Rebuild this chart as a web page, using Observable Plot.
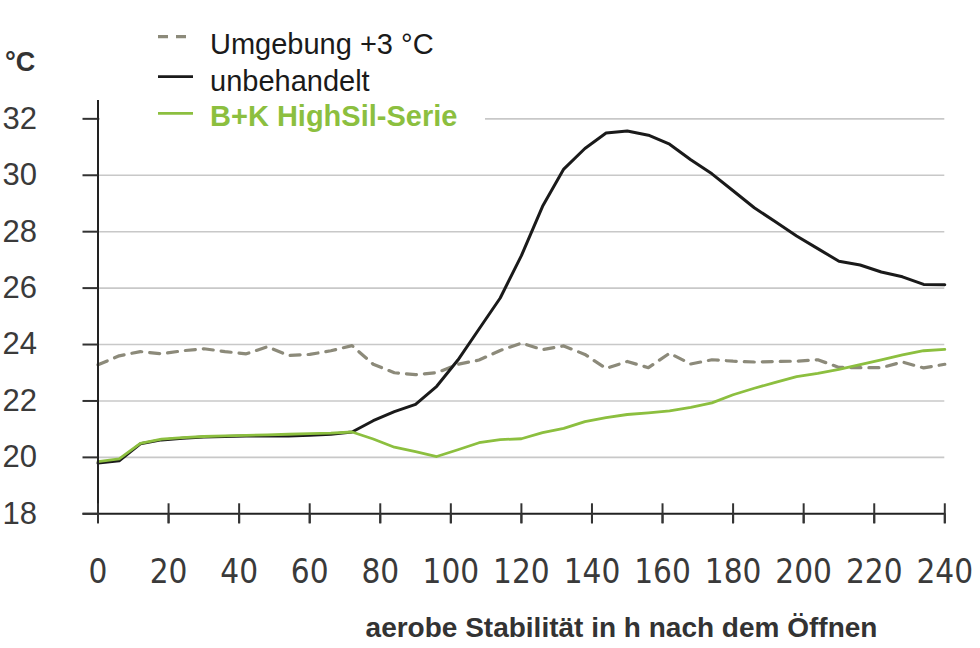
<!DOCTYPE html>
<html><head><meta charset="utf-8">
<script src="https://cdn.jsdelivr.net/npm/d3@7"></script>
<script src="https://cdn.jsdelivr.net/npm/@observablehq/plot@0.6"></script>
<style>
body{margin:0;background:#fff}
#chart{position:relative;width:980px;height:648px}
g[aria-label="y-axis tick label"] text{font-family:"Liberation Sans",Arial,sans-serif}
g[aria-label="x-axis tick label"] text{font-family:"Liberation Sans Narrow","DejaVu Sans Condensed",sans-serif;font-stretch:condensed}
</style>
</head><body><div id="chart"></div>
<script>
const seriesNames = ["Umgebung +3 °C", "unbehandelt", "B+K HighSil-Serie"];
const seriesColors = ["#8c8a7a", "#1a1a1a", "#8cbf3f"];
const hours = [0,6,12,18,24,30,36,42,48,54,60,66,72,78,84,90,96,102,108,114,120,126,132,138,144,150,156,162,168,174,180,186,192,198,204,210,216,222,228,234,240];
const umgebung = [23.28,23.6,23.75,23.67,23.78,23.85,23.75,23.67,23.92,23.61,23.65,23.78,23.96,23.3,23.0,22.93,23.0,23.3,23.45,23.79,24.05,23.82,23.95,23.65,23.15,23.4,23.18,23.69,23.31,23.46,23.41,23.38,23.4,23.41,23.46,23.19,23.18,23.18,23.38,23.17,23.3];
const unbehandelt = [19.8,19.88,20.48,20.62,20.68,20.72,20.74,20.76,20.76,20.76,20.78,20.82,20.9,21.3,21.62,21.88,22.52,23.45,24.55,25.65,27.15,28.9,30.22,30.95,31.5,31.57,31.42,31.1,30.55,30.05,29.45,28.85,28.35,27.85,27.4,26.95,26.82,26.57,26.4,26.13,26.12];
const highsil = [19.85,19.95,20.5,20.65,20.7,20.74,20.76,20.78,20.8,20.82,20.84,20.86,20.9,20.65,20.36,20.2,20.03,20.27,20.52,20.63,20.66,20.88,21.03,21.27,21.41,21.52,21.58,21.65,21.77,21.93,22.22,22.45,22.66,22.86,22.98,23.12,23.29,23.46,23.63,23.78,23.83];
const xTicks = [0,20,40,60,80,100,120,140,160,180,200,220,240];
const yTicks = [18,20,22,24,26,28,30,32];
const gridTicks = [20,22,24,26,28,30,32];
const xTitle = "aerobe Stabilität in h nach dem Öffnen";
const yUnit = "°C";

const seriesValues = [umgebung, unbehandelt, highsil];
const rows = [];
seriesValues.forEach((vals, s) => hours.forEach((h, i) => rows.push({h, v: vals[i], s: seriesNames[s]})));
const bySeries = name => rows.filter(r => r.s === name);

const plot = Plot.plot({
  width: 980, height: 648,
  marginLeft: 97.5, marginRight: 35.7, marginTop: 100, marginBottom: 134.7,
  x: {domain: [0, 240], label: null},
  y: {domain: [18, 32.65], label: null},
  style: {background: "white", overflow: "visible", color: "#333"},
  marks: [
    Plot.ruleY(gridTicks, {stroke: "#c8c8c8", strokeWidth: 1.6}),
    Plot.lineY(bySeries(seriesNames[0]), {x: "h", y: "v", stroke: seriesColors[0], strokeWidth: 3.2, strokeDasharray: "10,8"}),
    Plot.lineY(bySeries(seriesNames[1]), {x: "h", y: "v", stroke: seriesColors[1], strokeWidth: 3}),
    Plot.lineY(bySeries(seriesNames[2]), {x: "h", y: "v", stroke: seriesColors[2], strokeWidth: 2.8}),
    Plot.ruleX([0], {stroke: "#222", strokeWidth: 2}),
    Plot.ruleY([18], {stroke: "#222", strokeWidth: 2, insetLeft: -15}),
    Plot.axisY({ticks: yTicks, tickSize: 15, tickPadding: 46, fontSize: 31, stroke: "#333", strokeWidth: 2, fill: "#3a3a3a", label: null}),
    Plot.axisX({ticks: xTicks, tickSize: 10, tickPadding: 36, fontSize: 33, stroke: "#333", strokeWidth: 2, fill: "#3a3a3a", label: null}),
    Plot.ruleX(xTicks, {x: d => d, y1: () => 18, y2: () => 18, insetTop: -10, insetBottom: -10, stroke: "#333", strokeWidth: 2})
  ]
});

const svg = d3.select(plot);
svg.append("text").attr("x", 5).attr("y", 71).attr("text-anchor", "start").attr("font-family", "Liberation Sans, Arial, sans-serif")
  .attr("font-weight", "bold").attr("font-size", 27).attr("fill", "#333").text(yUnit);
svg.append("text").attr("x", 621.5).attr("y", 637).attr("text-anchor", "middle")
  .attr("font-family", "Liberation Sans, Arial, sans-serif").attr("font-weight", "bold").attr("font-size", 28)
  .attr("fill", "#333").text(xTitle);

const lg = svg.append("g");
lg.append("rect").attr("x", 100).attr("y", 18).attr("width", 385).attr("height", 112).attr("fill", "white");
const sampleY = [36.7, 76.7, 113.3];
const textY = [54.3, 90.7, 126];
const dashes = ["10,8", null, null];
seriesNames.forEach((name, i) => {
  lg.append("line").attr("x1", 158).attr("x2", 193).attr("y1", sampleY[i]).attr("y2", sampleY[i])
    .attr("stroke", seriesColors[i]).attr("stroke-width", i === 0 ? 3.2 : 2.8)
    .attr("stroke-dasharray", dashes[i]);
  lg.append("text").attr("x", 210).attr("y", textY[i]).attr("text-anchor", "start")
    .attr("font-family", "Liberation Sans, Arial, sans-serif")
    .attr("font-size", 29).attr("font-weight", i === 2 ? "bold" : "normal")
    .attr("fill", i === 2 ? seriesColors[2] : "#1a1a1a").text(name);
});

document.getElementById("chart").appendChild(plot);
</script>
</body></html>
